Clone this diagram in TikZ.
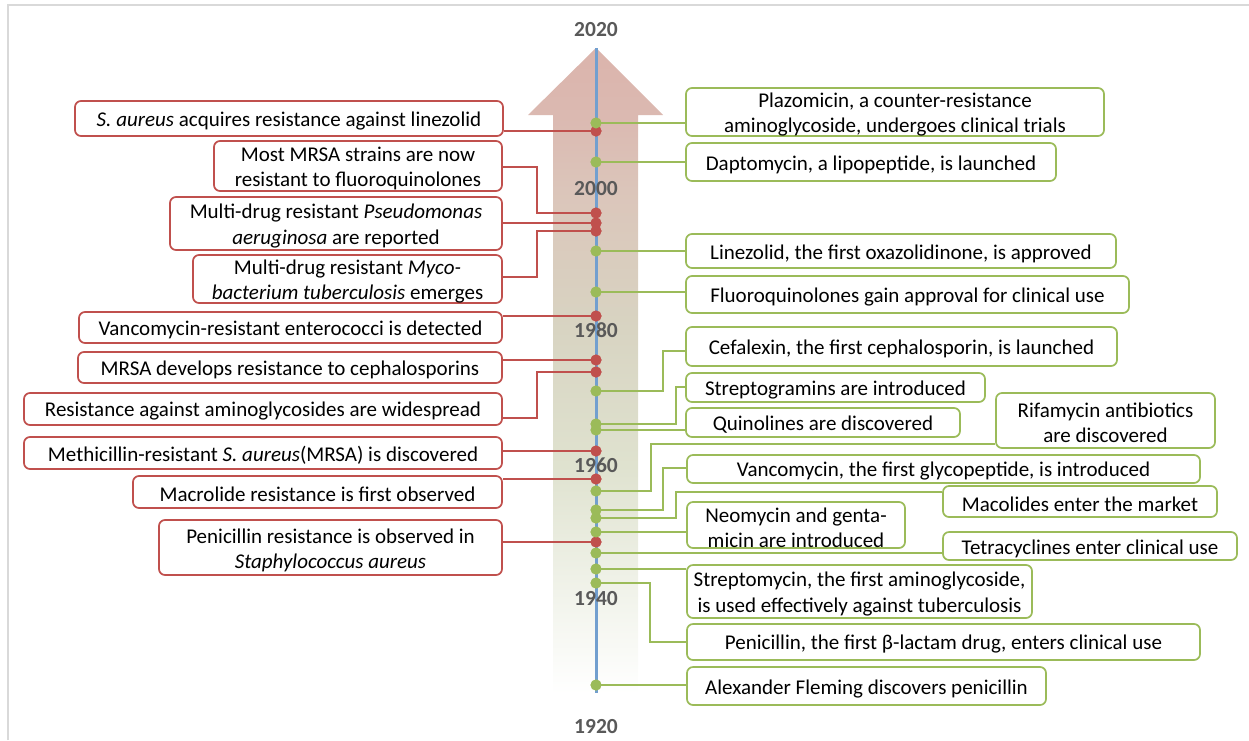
\documentclass[tikz,border=0pt]{standalone}
\usepackage{fontspec}
\setmainfont{Carlito}
\usetikzlibrary{calc}
\definecolor{rline}{RGB}{192,80,77}
\definecolor{gline}{RGB}{155,187,89}
\definecolor{bline}{RGB}{114,159,207}
\definecolor{yeargray}{RGB}{89,89,89}
\definecolor{framegray}{RGB}{217,217,217}
\definecolor{spink}{RGB}{219,180,172}
\definecolor{spink2}{RGB}{219,185,177}
\definecolor{srose}{RGB}{219,197,186}
\definecolor{sbeige}{RGB}{216,212,194}
\definecolor{sgreen}{RGB}{223,226,207}
\definecolor{slight}{RGB}{242,244,236}
\pgfdeclareverticalshading{arrowshade}{100bp}{color(0bp)=(white); color(28bp)=(white); color(34.8bp)=(slight); color(44.6bp)=(sgreen); color(54.5bp)=(sbeige); color(64.7bp)=(srose); color(70bp)=(spink2); color(75bp)=(spink); color(100bp)=(spink)}
\tikzset{
  every node/.style={font=\fontsize{21}{25}\selectfont},
  rbox/.style={draw=rline, line width=1.7pt, rounded corners=6pt, fill=white, inner sep=0pt},
  gbox/.style={draw=gline, line width=1.7pt, rounded corners=6pt, fill=white, inner sep=0pt},
  boxtext/.style={align=center, inner sep=0pt},
  rconn/.style={draw=rline, line width=1.8pt},
  gconn/.style={draw=gline, line width=1.8pt},
  rdot/.style={circle, fill=rline, minimum size=11pt, inner sep=0pt},
  gdot/.style={circle, fill=gline, minimum size=11pt, inner sep=0pt},
  yearlbl/.style={text=yeargray, font=\fontsize{21.5}{25}\selectfont\bfseries, inner sep=0pt},
}
\newcommand\ebox[7]{%
  \node[#2, minimum width={#5-#3}, minimum height={#6-#4}] (#1) at ({(#3+#5)/2},{(#4+#6)/2}) {};
  \node[boxtext] (#1t) at ($(#1.center)+(0,2.5)$) {#7};}
\begin{document}
\begin{tikzpicture}[x=1pt,y=-1pt]
\useasboundingbox (0,0) rectangle (1249,740);
% frame
\draw[framegray, line width=1.5pt] (8,740) -- (8,5) -- (1249,5);
% big arrow
\shade[shading=arrowshade] (596,48) -- (663,115) -- (638,115) -- (638,735) -- (596,693) -- (553,735) -- (553,115) -- (528,115) -- cycle;
% axis
\coordinate (axtop) at (596,48);
\coordinate (axbot) at (596,693);
\draw[bline, line width=3pt] (axtop) -- (axbot);

% dots
\node[rdot] (r1) at (596,131) {};
\node[rdot] (r2) at (596,213) {};
\node[rdot] (r3) at (596,223) {};
\node[rdot] (r4) at (596,231) {};
\node[rdot] (r5) at (596,316) {};
\node[rdot] (r6) at (596,360) {};
\node[rdot] (r7) at (596,372) {};
\node[rdot] (r8) at (596,451) {};
\node[rdot] (r9) at (596,479) {};
\node[rdot] (r10) at (596,542) {};
\node[gdot] (g1) at (596,123) {};
\node[gdot] (g2) at (596,162) {};
\node[gdot] (g3) at (596,251) {};
\node[gdot] (g4) at (596,292) {};
\node[gdot] (g5) at (596,391) {};
\node[gdot] (g6) at (596,424) {};
\node[gdot] (g7) at (596,430) {};
\node[gdot] (g8) at (596,491) {};
\node[gdot] (g9) at (596,510) {};
\node[gdot] (g10) at (596,518) {};
\node[gdot] (g11) at (596,532) {};
\node[gdot] (g12) at (596,553) {};
\node[gdot] (g13) at (596,569) {};
\node[gdot] (g14) at (596,583) {};
\node[gdot] (g15) at (596,685) {};

% left boxes
\ebox{L1}{rbox}{75}{101}{503}{136}{\textit{S. aureus} acquires resistance against linezolid}
\ebox{L2}{rbox}{214}{141}{502}{191}{Most MRSA strains are now\\resistant to fluoroquinolones}
\ebox{L3}{rbox}{170}{197}{502}{250}{Multi-drug resistant \textit{Pseudomonas}\\\textit{aeruginosa} are reported}
\ebox{L4}{rbox}{193}{255}{502}{303}{Multi-drug resistant \textit{Myco-}\\\textit{bacterium tuberculosis} emerges}
\ebox{L5}{rbox}{79}{312}{502}{343}{Vancomycin-resistant enterococci is detected}
\ebox{L6}{rbox}{78}{352}{502}{383}{MRSA develops resistance to cephalosporins}
\ebox{L7}{rbox}{24}{393}{502}{425}{Resistance against aminoglycosides are widespread}
\ebox{L8}{rbox}{24}{437}{502}{469}{Methicillin-resistant \textit{S. aureus}(MRSA) is discovered}
\ebox{L9}{rbox}{133}{476}{502}{508}{Macrolide resistance is first observed}
\ebox{L10}{rbox}{159}{520}{502}{575}{Penicillin resistance is observed in\\\textit{Staphylococcus aureus}}

% right boxes
\ebox{R1}{gbox}{686}{88}{1104}{136}{Plazomicin, a counter-resistance\\aminoglycoside, undergoes clinical trials}
\ebox{R2}{gbox}{686}{143}{1056}{181}{Daptomycin, a lipopeptide, is launched}
\ebox{R3}{gbox}{686}{234}{1116}{268}{Linezolid, the first oxazolidinone, is approved}
\ebox{R4}{gbox}{686}{276}{1129}{313}{Fluoroquinolones gain approval for clinical use}
\ebox{R5}{gbox}{686}{327}{1117}{366}{Cefalexin, the first cephalosporin, is launched}
\ebox{R6}{gbox}{686}{373}{985}{402}{Streptogramins are introduced}
\ebox{R7}{gbox}{686}{408}{960}{437}{Quinolines are discovered}
\ebox{R8}{gbox}{996}{393}{1215}{448}{Rifamycin antibiotics\\are discovered}
\ebox{R9}{gbox}{687}{455}{1200}{483}{Vancomycin, the first glycopeptide, is introduced}
\ebox{R10}{gbox}{943}{486}{1217}{517}{Macolides enter the market}
\ebox{R11}{gbox}{687}{502}{905}{548}{Neomycin and genta-\\micin are introduced}
\ebox{R12}{gbox}{943}{532}{1237}{560}{Tetracyclines enter clinical use}
\ebox{R13}{gbox}{687}{565}{1032}{618}{Streptomycin, the first aminoglycoside,\\is used effectively against tuberculosis}
\ebox{R14}{gbox}{687}{624}{1200}{660}{Penicillin, the first β-lactam drug, enters clinical use}
\ebox{R15}{gbox}{687}{667}{1046}{705}{Alexander Fleming discovers penicillin}

% elbow coordinates
\coordinate (e2) at (537,167);
\coordinate (e4) at (537,277);
\coordinate (e7) at (537,418);
\coordinate (c5) at (663,351);
\coordinate (c6) at (676,387);
\coordinate (c8) at (651,444);
\coordinate (c9) at (663,468);
\coordinate (c10) at (676,492);
\coordinate (c14) at (650,642);

% red connectors
\draw[rconn] (r1.center) -- (r1 -| L1.east);
\draw[rconn] (r2.center) -| (e2) -- (e2 -| L2.east);
\draw[rconn] (r3.center) -- (r3 -| L3.east);
\draw[rconn] (r4.center) -| (e4) -- (e4 -| L4.east);
\draw[rconn] (r5.center) -- (r5 -| L5.east);
\draw[rconn] (r6.center) -- (r6 -| L6.east);
\draw[rconn] (r7.center) -| (e7) -- (e7 -| L7.east);
\draw[rconn] (r8.center) -- (r8 -| L8.east);
\draw[rconn] (r9.center) -- (r9 -| L9.east);
\draw[rconn] (r10.center) -- (r10 -| L10.east);
% green connectors
\draw[gconn] (g1.center) -- (g1 -| R1.west);
\draw[gconn] (g2.center) -- (g2 -| R2.west);
\draw[gconn] (g3.center) -- (g3 -| R3.west);
\draw[gconn] (g4.center) -- (g4 -| R4.west);
\draw[gconn] (g5.center) -| (c5) -- (c5 -| R5.west);
\draw[gconn] (g6.center) -| (c6) -- (c6 -| R6.west);
\draw[gconn] (g7.center) -- (g7 -| R7.west);
\draw[gconn] (g8.center) -| (c8) -- (c8 -| R8.west);
\draw[gconn] (g9.center) -| (c9) -- (c9 -| R9.west);
\draw[gconn] (g10.center) -| (c10) -- (c10 -| R10.west);
\draw[gconn] (g11.center) -- (g11 -| R11.west);
\draw[gconn] (g12.center) -- (g12 -| R12.west);
\draw[gconn] (g13.center) -- (g13 -| R13.west);
\draw[gconn] (g14.center) -| (c14) -- (c14 -| R14.west);
\draw[gconn] (g15.center) -- (g15 -| R15.west);

% redraw dots on top of connectors
\foreach \n in {r1,r2,r3,r4,r5,r6,r7,r8,r9,r10} {\fill[rline] (\n) circle (5.5pt);}
\foreach \n in {g1,g2,g3,g4,g5,g6,g7,g8,g9,g10,g11,g12,g13,g14,g15} {\fill[gline] (\n) circle (5.5pt);}

% years
\node[yearlbl] (y2020) at (596,30) {2020};
\node[yearlbl] (y2000) at (596,189) {2000};
\node[yearlbl] (y1980) at (596,330) {1980};
\node[yearlbl] (y1960) at (596,465) {1960};
\node[yearlbl] (y1940) at (596,599) {1940};
\node[yearlbl] (y1920) at (596,727) {1920};
\end{tikzpicture}
\end{document}
